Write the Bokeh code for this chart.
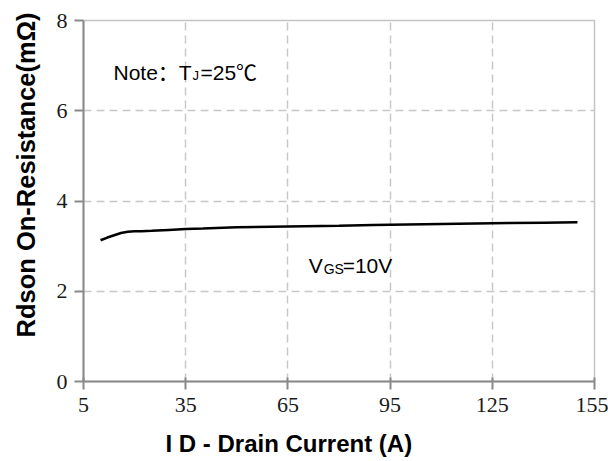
from bokeh.plotting import figure
from bokeh.models import FixedTicker, Title, Label
from bokeh.embed import file_html
from bokeh.resources import INLINE

# ---- data ----
id_current = [10, 12, 14, 16, 18, 20, 22, 25, 30, 35, 40, 50, 60, 70, 80, 90, 100, 110, 120, 130, 140, 150]
rdson = [3.13, 3.19, 3.24, 3.29, 3.32, 3.33, 3.33, 3.34, 3.36, 3.38, 3.39, 3.42, 3.43, 3.44, 3.45, 3.47, 3.48, 3.49, 3.50, 3.51, 3.52, 3.53]
x_ticks = [5, 35, 65, 95, 125, 155]
y_ticks = [0, 2, 4, 6, 8]
x_grid = [35, 65, 95, 125]
y_grid = [2, 4, 6]
x_title = "I D - Drain Current (A)"
y_title = "Rdson On-Resistance(mΩ)"
note_main = "Note：T"
note_sub = "J"
note_tail = "=25℃"
curve_main = "V"
curve_sub = "GS"
curve_tail = "=10V"

SANS = "Liberation Sans"
NOTE_FONT = "Liberation Sans, Noto Sans CJK SC"
SERIF = "Liberation Serif"

p = figure(width=608, height=461, x_range=(5, 155), y_range=(0, 8),
           output_backend="svg", toolbar_location=None,
           min_border_left=83, min_border_right=14, min_border_top=20, min_border_bottom=80)

p.background_fill_color = "white"
p.border_fill_color = "white"
p.outline_line_color = "#c4c4c4"
p.outline_line_width = 1.5

# grid
p.xgrid.ticker = FixedTicker(ticks=x_grid)
p.ygrid.ticker = FixedTicker(ticks=y_grid)
for g in (p.xgrid, p.ygrid):
    g.grid_line_color = "#c8c8c8"
    g.grid_line_width = 1.5
    g.grid_line_dash = "8 5"

# axes
p.xaxis.ticker = FixedTicker(ticks=x_ticks)
p.yaxis.ticker = FixedTicker(ticks=y_ticks)
for ax in (p.xaxis, p.yaxis):
    ax.axis_line_color = "#8a8a8a"
    ax.axis_line_width = 2
    ax.major_tick_line_color = "#8a8a8a"
    ax.major_tick_line_width = 2
    ax.minor_tick_line_color = None
    ax.major_label_text_font = SERIF
    ax.major_label_text_font_size = "22px"
    ax.major_label_text_color = "#1a1a1a"
    # blank axis label used only as spacing before the off-centre titles
    ax.axis_label = " "
    ax.axis_label_text_font = SANS
    ax.axis_label_text_color = "white"
p.xaxis.major_tick_in = 4
p.xaxis.major_tick_out = 8
p.yaxis.major_tick_in = 0
p.yaxis.major_tick_out = 9
p.xaxis.major_label_standoff = 8
p.yaxis.major_label_standoff = 7
p.xaxis.axis_label_text_font_size = "8px"
p.xaxis.axis_label_standoff = 1
p.yaxis.axis_label_text_font_size = "10px"
p.yaxis.axis_label_standoff = 0

# curve
p.line(id_current, rdson, line_color="black", line_width=2.5)

# axis titles
xt = Title(text=x_title, align="left", offset=82, text_font=SANS,
           text_font_size="24px", text_font_style="bold", text_color="black", standoff=0)
p.add_layout(xt, "below")
yt = Title(text=y_title, align="left", offset=44, text_font=SANS,
           text_font_size="25.5px", text_font_style="bold", text_color="black", standoff=0)
p.add_layout(yt, "left")

# annotations
def lab(x, y, t, size, dx=0, dy=0, font=SANS):
    p.add_layout(Label(x=x, y=y, text=t, x_offset=dx, y_offset=dy,
                       text_font=font, text_font_size=size, text_color="black",
                       text_baseline="alphabetic", text_align="left"))

lab(13.8, 6.85, note_main, "21px", font=NOTE_FONT)
lab(13.8, 6.85, note_sub, "13px", dx=79, dy=-3)
lab(13.8, 6.85, note_tail, "21px", dx=87, font=NOTE_FONT)

lab(71.1, 2.57, curve_main, "21px")
lab(71.1, 2.57, curve_sub, "14px", dx=15, dy=-3)
lab(71.1, 2.57, curve_tail, "21px", dx=34)

open("out.html", "w").write(file_html(p, INLINE))
